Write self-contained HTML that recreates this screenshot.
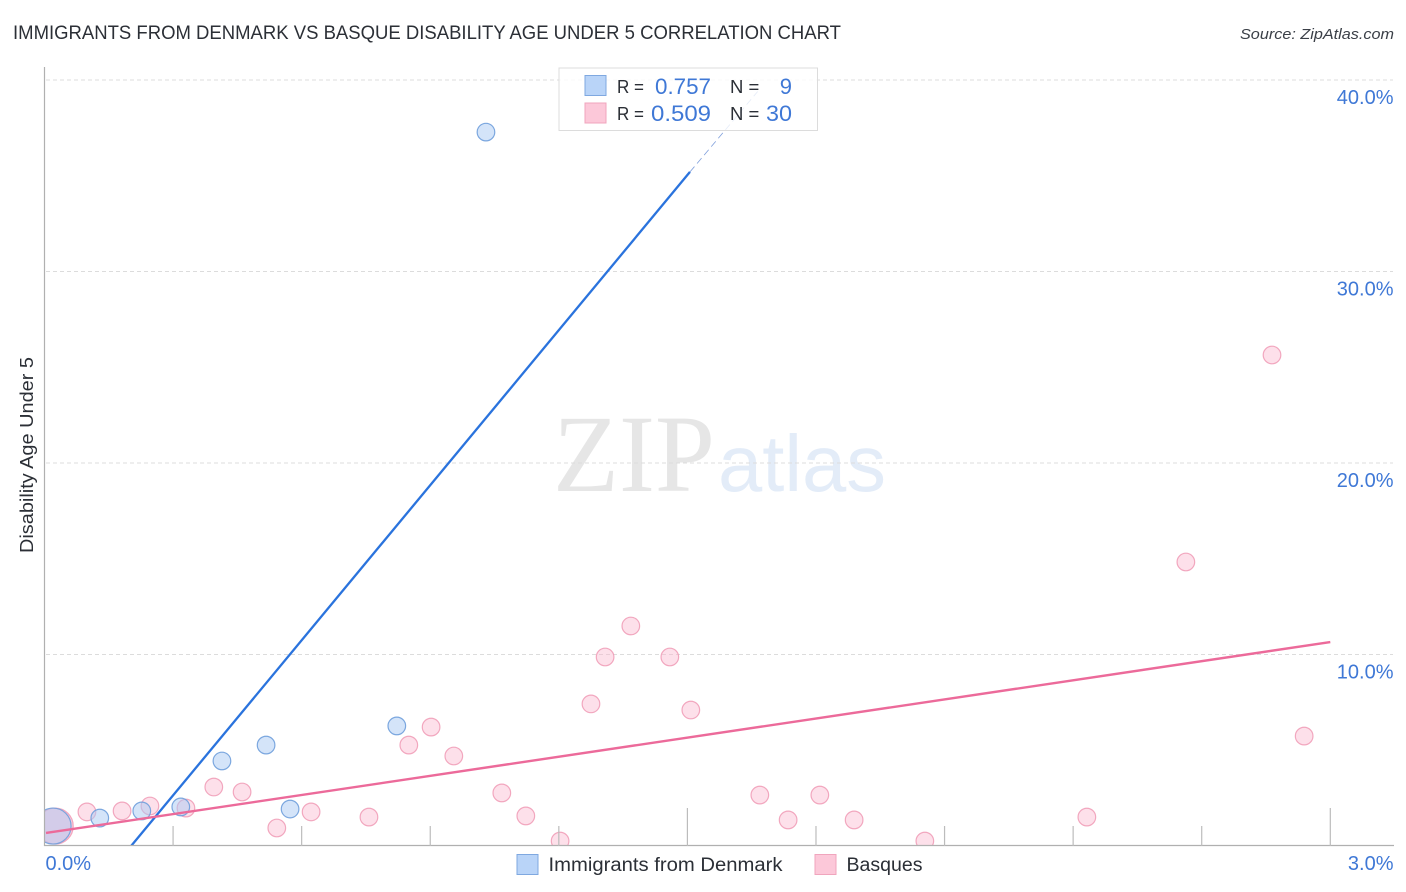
<!DOCTYPE html>
<html lang="en">
<head>
<meta charset="utf-8">
<title>Immigrants from Denmark vs Basque Disability Age Under 5 Correlation Chart</title>
<style>
html,body{margin:0;padding:0;background:#fff;}
body{width:1406px;height:892px;overflow:hidden;}
svg{display:block;font-family:"Liberation Sans",sans-serif;}
</style>
</head>
<body>
<svg id="chart" xmlns="http://www.w3.org/2000/svg" width="1406" height="892" viewBox="0 0 1406 892">
  <defs>
    <clipPath id="plot-clip"><rect x="45" y="60" width="1300" height="785"/></clipPath>
  </defs>
  <text x="13" y="39" font-size="19" fill="#2b2f36" textLength="828" lengthAdjust="spacingAndGlyphs">IMMIGRANTS FROM DENMARK VS BASQUE DISABILITY AGE UNDER 5 CORRELATION CHART</text>
  <text x="1394" y="39" font-size="15" font-style="italic" fill="#3a3f47" text-anchor="end" textLength="154" lengthAdjust="spacingAndGlyphs">Source: ZipAtlas.com</text>
  <g id="watermark">
    <text x="553" y="491" font-family="'Liberation Serif',serif" font-size="110" fill="#e6e6e6" textLength="162" lengthAdjust="spacingAndGlyphs">ZIP</text>
    <text x="718" y="491" font-size="80" fill="#e3ecf8" textLength="168" lengthAdjust="spacingAndGlyphs">atlas</text>
  </g>
  <g id="grid"></g>
  <g id="marks" clip-path="url(#plot-clip)"></g>
  <g id="trends" clip-path="url(#plot-clip)"></g>
  <rect x="20" y="790" width="24.500" height="60" fill="#fff"/>
  <g id="axes"></g>
  <g id="tick-labels"></g>
  <text transform="translate(33,553) rotate(-90)" font-size="18.5" fill="#2b2f36" textLength="196" lengthAdjust="spacingAndGlyphs">Disability Age Under 5</text>

  <g>
    <rect x="559" y="68" width="258.5" height="62.5" fill="#fff" fill-opacity="0.8" stroke="#dcdcdc" stroke-width="1"/>
    <rect x="585" y="75.500" width="21" height="20" fill="#b9d4f8" stroke="#7fa8e0" stroke-width="1"/>
    <rect x="585" y="103" width="21" height="20" fill="#fcc8d9" stroke="#f0a5bd" stroke-width="1"/>
    <text x="617" y="93" font-size="18.500" fill="#2b2f36" textLength="27" lengthAdjust="spacingAndGlyphs">R =</text>
    <text x="711" y="94" font-size="22" fill="#3f78d6" text-anchor="end" textLength="56" lengthAdjust="spacingAndGlyphs">0.757</text>
    <text x="730" y="93" font-size="18.500" fill="#2b2f36">N =</text>
    <text x="792" y="94" font-size="22" fill="#3f78d6" text-anchor="end">9</text>
    <text x="617" y="120" font-size="18.500" fill="#2b2f36" textLength="27" lengthAdjust="spacingAndGlyphs">R =</text>
    <text x="711" y="121" font-size="22" fill="#3f78d6" text-anchor="end" textLength="60" lengthAdjust="spacingAndGlyphs">0.509</text>
    <text x="730" y="120" font-size="18.500" fill="#2b2f36">N =</text>
    <text x="792" y="121" font-size="22" fill="#3f78d6" text-anchor="end" textLength="26" lengthAdjust="spacingAndGlyphs">30</text>
  </g>

  <g>
    <g>
      <rect x="517" y="854.500" width="21" height="20" fill="#b9d4f8" stroke="#7fa8e0" stroke-width="1"/>
      <text x="548.500" y="871" font-size="19" fill="#2b2f36" textLength="234" lengthAdjust="spacingAndGlyphs">Immigrants from Denmark</text>
    </g>
    <g>
      <rect x="815" y="854.500" width="21" height="20" fill="#fcc8d9" stroke="#f0a5bd" stroke-width="1"/>
      <text x="846.500" y="871" font-size="19" fill="#2b2f36" textLength="76" lengthAdjust="spacingAndGlyphs">Basques</text>
    </g>
  </g>
</svg>
<script>
const yTickValues = [10, 20, 30, 40];
const yTickLabels = ["10.0%", "20.0%", "30.0%", "40.0%"];
const xTickValues = [0.3, 0.6, 0.9, 1.2, 1.5, 1.8, 2.1, 2.4, 2.7, 3.0];
const xMajorTicks = [1.5, 3.0];
const xEndValues = [0, 3.0];
const xEndLabels = ["0.0%", "3.0%"];

const denmarkX = [1.030, 0.822, 0.517, 0.414, 0.318, 0.227, 0.129, 0.573, 0.020];
const denmarkY = [37.28, 6.27, 5.27, 4.44, 2.04, 1.83, 1.46, 1.93, 1.04];
const denmarkBig = [false, false, false, false, false, false, false, false, true];

const basquesX = [2.864, 2.663, 1.368, 1.308, 1.459, 1.275, 1.508, 0.902, 0.850, 0.955, 2.939, 0.395, 0.461, 0.246, 0.330, 0.099, 0.181, 0.622, 0.542, 0.757, 1.067, 1.123, 1.203, 1.669, 1.809, 1.735, 1.889, 2.054, 2.432, 0.025];
const basquesY = [25.64, 14.83, 11.49, 9.87, 9.87, 7.42, 7.10, 6.21, 5.27, 4.70, 5.74, 3.08, 2.82, 2.09, 1.98, 1.78, 1.83, 1.78, 0.94, 1.51, 2.77, 1.57, 0.26, 2.66, 2.66, 1.36, 1.36, 0.26, 1.51, 1.04];
const basquesBig = [false, false, false, false, false, false, false, false, false, false, false, false, false, false, false, false, false, false, false, false, false, false, false, false, false, false, false, false, false, true];

const denmarkTrendX = [0.202, 1.506];
const denmarkTrendY = [0, 35.2];
const denmarkDashX = [1.506, 1.664];
const denmarkDashY = [35.2, 39.4];
const basquesTrendX = [0.0035, 3.0];
const basquesTrendY = [0.68, 10.65];

const NS = "http://www.w3.org/2000/svg";
function xScale(v) { return 44.5 + v * 428.6; }
function yScale(v) { return 846 - v * 19.15; }
function make(tag, attrs, parent) {
  const el = document.createElementNS(NS, tag);
  for (const k in attrs) el.setAttribute(k, attrs[k]);
  parent.appendChild(el);
  return el;
}

const grid = document.getElementById("grid");
const axes = document.getElementById("axes");
const marks = document.getElementById("marks");
const trends = document.getElementById("trends");
const tickLabels = document.getElementById("tick-labels");

yTickValues.forEach(function (v, i) {
  const y = yScale(v);
  const line = make("line", { x1: 46, x2: 1393, y1: y, y2: y, stroke: "#dcdcdc", "stroke-width": 1, "stroke-dasharray": "4 3" }, grid);
  
  
  const label = make("text", { x: 1393.5, y: y + 24, "font-size": 20, fill: "#3f78d6", "text-anchor": "end" }, tickLabels);
  label.textContent = yTickLabels[i];
  
  
});

const yAxis = make("line", { x1: 44.5, x2: 44.5, y1: 67, y2: 846, stroke: "#b0b0b0", "stroke-width": 1.2 }, axes);


const xAxis = make("line", { x1: 44, x2: 1394, y1: 845.5, y2: 845.5, stroke: "#b0b0b0", "stroke-width": 1.2 }, axes);



xTickValues.forEach(function (v) {
  const x = xScale(v);
  const top = xMajorTicks.indexOf(v) >= 0 ? 808 : 826;
  const tick = make("line", { x1: x, x2: x, y1: top, y2: 846, stroke: "#bcbcbc", "stroke-width": 1.2 }, axes);
  
  
});

xEndValues.forEach(function (v, i) {
  const label = make("text", {
    x: i === 0 ? xScale(v) + 1 : 1393.5,
    y: 870,
    "font-size": 20,
    fill: "#3f78d6",
    "text-anchor": i === 0 ? "start" : "end"
  }, tickLabels);
  label.textContent = xEndLabels[i];
  
  
});

basquesX.forEach(function (v, i) {
  const c = make("circle", {
    cx: xScale(v), cy: yScale(basquesY[i]), r: basquesBig[i] ? 18 : 8.8,
    fill: "#fbb6cc", "fill-opacity": basquesBig[i] ? 0.65 : 0.42, stroke: "#f09ab5", "stroke-opacity": 0.85, "stroke-width": 1.2
  }, marks);
  
  
});

denmarkX.forEach(function (v, i) {
  const c = make("circle", {
    cx: xScale(v), cy: yScale(denmarkY[i]), r: denmarkBig[i] ? 18 : 8.8,
    fill: "#a9c9f3", "fill-opacity": 0.5, stroke: "#6f9fdc", "stroke-opacity": 0.9, "stroke-width": 1.2
  }, marks);
  
  
});

const denmarkLine = make("line", {
  x1: xScale(denmarkTrendX[0]), y1: yScale(denmarkTrendY[0]),
  x2: xScale(denmarkTrendX[1]), y2: yScale(denmarkTrendY[1]),
  stroke: "#2a73dd", "stroke-width": 2.3
}, trends);



const denmarkDash = make("line", {
  x1: xScale(denmarkDashX[0]), y1: yScale(denmarkDashY[0]),
  x2: xScale(denmarkDashX[1]), y2: yScale(denmarkDashY[1]),
  stroke: "#7f9fdc", "stroke-width": 0.8, "stroke-dasharray": "7 4"
}, trends);



const basquesLine = make("line", {
  x1: xScale(basquesTrendX[0]), y1: yScale(basquesTrendY[0]),
  x2: xScale(basquesTrendX[1]), y2: yScale(basquesTrendY[1]),
  stroke: "#ec6a9a", "stroke-width": 2.4
}, trends);


</script>
</body>
</html>
